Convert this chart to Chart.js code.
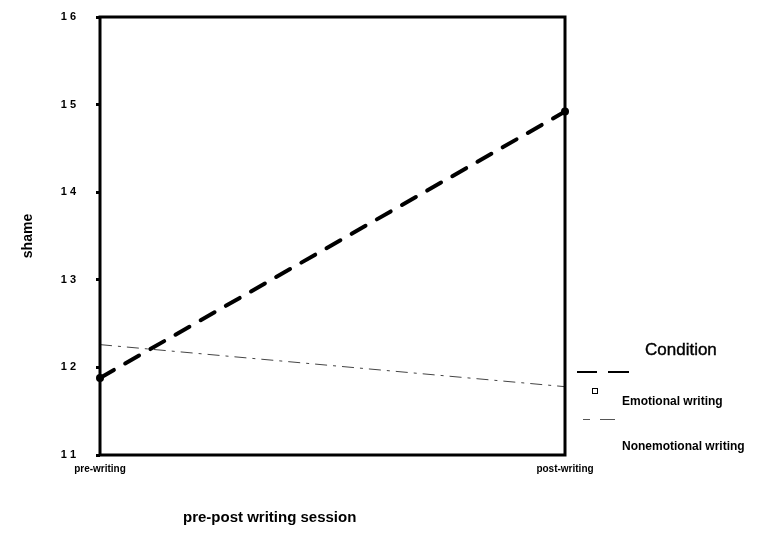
<!DOCTYPE html>
<html>
<head>
<meta charset="utf-8">
<script src="https://cdn.jsdelivr.net/npm/chart.js@4"></script>
<style>
  body { margin: 0; background: #fff; font-family: "Liberation Sans", Arial, sans-serif; }
  #wrap { position: relative; width: 780px; height: 536px; }
  #chart { position: absolute; left: 0; top: 0; }
  .txt { position: absolute; font-weight: bold; color: #000; white-space: nowrap; }
  .seg { position: absolute; background: #000; }
</style>
</head>
<body>
<div id="wrap">
  <canvas id="chart" width="780" height="536"></canvas>
  <div class="txt" style="left:183px; top:508px; font-size:15px;">pre-post writing session</div>
  <div class="txt" style="left:645px; top:340px; font-size:17px; font-weight:normal; -webkit-text-stroke:0.4px #000;">Condition</div>
  <!-- legend line samples -->
  <div class="seg" style="left:577px; top:371px; width:20px; height:2px;"></div>
  <div class="seg" style="left:608px; top:371px; width:21px; height:2px;"></div>
  <div style="position:absolute; left:592px; top:388px; width:4px; height:4px; border:1px solid #000;"></div>
  <div class="txt" style="left:622px; top:394px; font-size:12px;">Emotional writing</div>
  <div class="seg" style="left:583px; top:419px; width:7px; height:1px; background:#555;"></div>
  <div class="seg" style="left:600px; top:419px; width:15px; height:1px; background:#555;"></div>
  <div class="txt" style="left:622px; top:439px; font-size:12px;">Nonemotional writing</div>
</div>
<script>
const sessions = ['pre-writing', 'post-writing'];
const emotional = [11.88, 14.92];
const nonemotional = [12.26, 11.78];
const yTicks = [11, 12, 13, 14, 15, 16];

// frame round the plot area (top and right edges are not axes)
const framePlugin = {
    id: 'frame',
    afterDatasetsDraw(chart) {
        const {ctx, chartArea: a} = chart;
        ctx.save();
        ctx.strokeStyle = '#000';
        ctx.lineWidth = 3;
        ctx.strokeRect(a.left, a.top, a.right - a.left, a.bottom - a.top);
        ctx.restore();
    }
};

new Chart(document.getElementById('chart').getContext('2d'), {
    type: 'line',
    data: {
        labels: sessions,
        datasets: [
            {
                label: 'Nonemotional writing',
                data: nonemotional,
                borderColor: '#444',
                borderWidth: 1,
                borderDash: [12, 6, 3, 6],
                pointRadius: 0,
                tension: 0
            },
            {
                label: 'Emotional writing',
                data: emotional,
                borderColor: '#000',
                borderWidth: 4,
                borderDash: [16, 13],
                borderCapStyle: 'round',
                pointRadius: 4,
                pointBackgroundColor: '#000',
                pointBorderWidth: 0,
                tension: 0
            }
        ]
    },
    options: {
        responsive: false,
        animation: false,
        layout: { padding: { top: 17, right: 215, bottom: 0, left: 0 } },
        plugins: {
            legend: { display: false },
            tooltip: { enabled: false }
        },
        scales: {
            x: {
                offset: false,
                grid: { display: false },
                border: { display: false },
                ticks: {
                    color: '#000',
                    font: { family: 'Liberation Sans', size: 10, weight: 'bold' },
                    padding: 0,
                    maxRotation: 0
                },
                afterFit: s => { s.height = 81; s.paddingLeft = 0; s.paddingRight = 0; }
            },
            y: {
                min: 11,
                max: 16,
                afterBuildTicks: s => { s.ticks = yTicks.map(v => ({ value: v })); },
                grid: { drawOnChartArea: false, tickLength: 4, tickWidth: 3, color: '#000' },
                border: { display: false },
                ticks: {
                    color: '#000',
                    font: { family: 'Liberation Sans', size: 11, weight: 'bold' },
                    padding: 20,
                    callback: v => String(v).split('').join(' ')
                },
                title: {
                    display: true,
                    text: 'shame',
                    color: '#000',
                    font: { family: 'Liberation Sans', size: 14, weight: 'bold' },
                    padding: { top: 20, bottom: 0 }
                },
                afterFit: s => { s.width = 100; s.paddingTop = 0; s.paddingBottom = 0; }
            }
        }
    },
    plugins: [framePlugin]
});
</script>
</body>
</html>
